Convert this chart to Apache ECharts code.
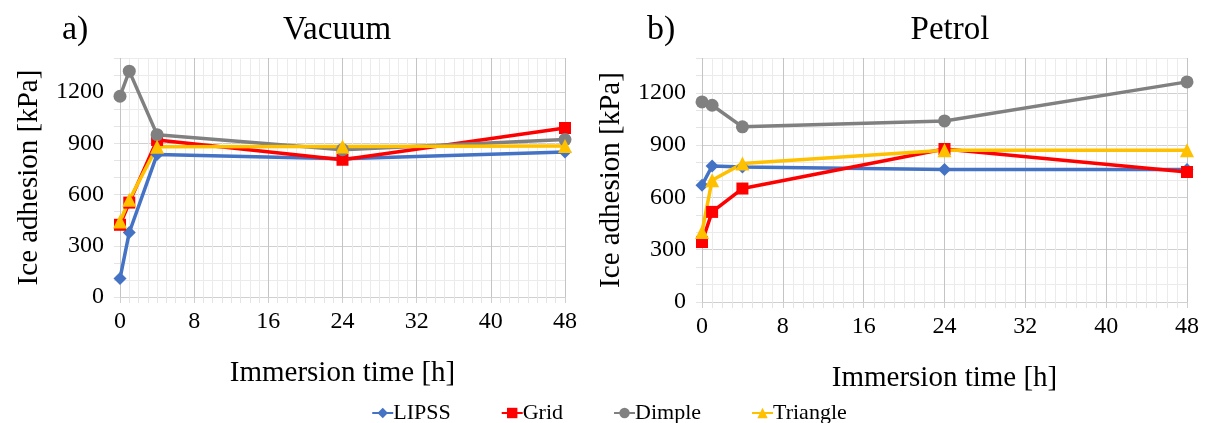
<!DOCTYPE html>
<html>
<head>
<meta charset="utf-8">
<script src="https://cdn.jsdelivr.net/npm/echarts@6/dist/echarts.min.js"></script>
<style>
  html, body { margin: 0; padding: 0; background: #fff; }
  #chart { width: 1218px; height: 423px; }
</style>
</head>
<body>
<div id="chart"></div>
<script>
// immersion times [h]
const hours = [0, 1, 4, 24, 48]

// Vacuum panel, ice adhesion [kPa]
const vacLipss = [108, 378, 835, 810, 849]
const vacGrid = [423, 553, 920, 804, 990]
const vacDimple = [1176, 1323, 951, 863, 922]
const vacTriangle = [442, 569, 880, 882, 884]

// Petrol panel, ice adhesion [kPa]
const petLipss = [670, 780, 775, 760, 760]
const petGrid = [344, 517, 651, 878, 746]
const petDimple = [1148, 1129, 1005, 1039, 1263]
const petTriangle = [402, 699, 794, 871, 871]

const seriesNames = ['LIPSS', 'Grid', 'Dimple', 'Triangle']
const yTickLabels = [0, 300, 600, 900, 1200]

const colors = ['#4472C4', '#FF0000', '#808080', '#FFC000']
const symbols = ['diamond', 'rect', 'circle', 'triangle']
const symbolSizes = [13, 12, 13, 14]
const font = 'Liberation Serif'

const pairs = (ys) => hours.map((h, i) => [h, ys[i]])
const serifRich = (size) => ({ t: { fontFamily: font, fontSize: size, color: '#000' } })

function xAxisFor(gridIndex) {
  return {
    gridIndex,
    type: 'value',
    min: 0,
    max: 48,
    interval: 8,
    name: 'Immersion time [h]',
    nameLocation: 'middle',
    nameGap: 62,
    nameTextStyle: { fontFamily: font, fontSize: 29, color: '#000' },
    axisLine: { show: false },
    axisTick: { show: true, length: 6, lineStyle: { color: '#cfcfcf' } },
    minorTick: { show: true, splitNumber: 8, length: 6, lineStyle: { color: '#e4e4e4' } },
    axisLabel: {
      fontFamily: font, fontSize: 24, color: '#000', margin: 13,
      rich: serifRich(24),
      formatter: (v) => '{t|' + v + '}',
    },
    splitLine: { show: true, lineStyle: { color: '#c4c4c4' } },
    minorSplitLine: { show: true, lineStyle: { color: '#ebebeb' } },
  }
}

function yAxisFor(gridIndex) {
  return {
    gridIndex,
    type: 'value',
    min: 0,
    max: 1400,
    interval: 100,
    name: 'Ice adhesion [kPa]',
    nameLocation: 'middle',
    nameGap: 76,
    nameTextStyle: { fontFamily: font, fontSize: 29, color: '#000' },
    axisLine: { show: false },
    axisTick: { show: true, length: 6, lineStyle: { color: '#e4e4e4' } },
    axisLabel: {
      fontFamily: font, fontSize: 24, color: '#000', margin: 16,
      rich: serifRich(24),
      formatter: (v) => (yTickLabels.includes(v) ? '{t|' + v + '}' : ''),
    },
    splitLine: {
      show: true,
      lineStyle: { color: ['#d0d0d0', '#ebebeb', '#ebebeb'] },
    },
  }
}

function lineSeries(name, idx, ys, axisIndex) {
  return {
    name,
    type: 'line',
    xAxisIndex: axisIndex,
    yAxisIndex: axisIndex,
    data: pairs(ys),
    symbol: symbols[idx],
    symbolSize: symbolSizes[idx],
    showAllSymbol: true,
    lineStyle: { width: 3.5, color: colors[idx] },
    itemStyle: { color: colors[idx] },
    animation: false,
  }
}

const chart = echarts.init(document.getElementById('chart'), null, { renderer: 'canvas' })

chart.setOption({
  backgroundColor: '#fff',
  animation: false,
  color: colors,
  textStyle: { fontFamily: font, color: '#000' },
  graphic: [
    { type: 'text', x: 62, y: 30, style: { text: 'a)', font: '34px ' + font, fill: '#000', verticalAlign: 'middle' } },
    { type: 'text', x: 337, y: 30, style: { text: 'Vacuum', font: '33px ' + font, fill: '#000', align: 'center', verticalAlign: 'middle' } },
    { type: 'text', x: 647, y: 30, style: { text: 'b)', font: '34px ' + font, fill: '#000', verticalAlign: 'middle' } },
    { type: 'text', x: 950, y: 30, style: { text: 'Petrol', font: '33px ' + font, fill: '#000', align: 'center', verticalAlign: 'middle' } },
  ],
  legend: {
    data: seriesNames,
    top: 397,
    left: 'center',
    itemWidth: 21,
    itemHeight: 13,
    itemGap: 50,
    formatter: (name) => '{t|' + name + '}',
    textStyle: { fontFamily: font, fontSize: 22, color: '#000', padding: [0, 0, 0, -5], rich: serifRich(22) },
  },
  grid: [
    { left: 120, right: 1218 - 565, top: 58, bottom: 423 - 297 },
    { left: 702, right: 1218 - 1187, top: 58, bottom: 423 - 302 },
  ],
  xAxis: [xAxisFor(0), xAxisFor(1)],
  yAxis: [yAxisFor(0), yAxisFor(1)],
  series: [
    lineSeries('LIPSS', 0, vacLipss, 0),
    lineSeries('Grid', 1, vacGrid, 0),
    lineSeries('Dimple', 2, vacDimple, 0),
    lineSeries('Triangle', 3, vacTriangle, 0),
    lineSeries('LIPSS', 0, petLipss, 1),
    lineSeries('Grid', 1, petGrid, 1),
    lineSeries('Dimple', 2, petDimple, 1),
    lineSeries('Triangle', 3, petTriangle, 1),
  ],
})
</script>
</body>
</html>
